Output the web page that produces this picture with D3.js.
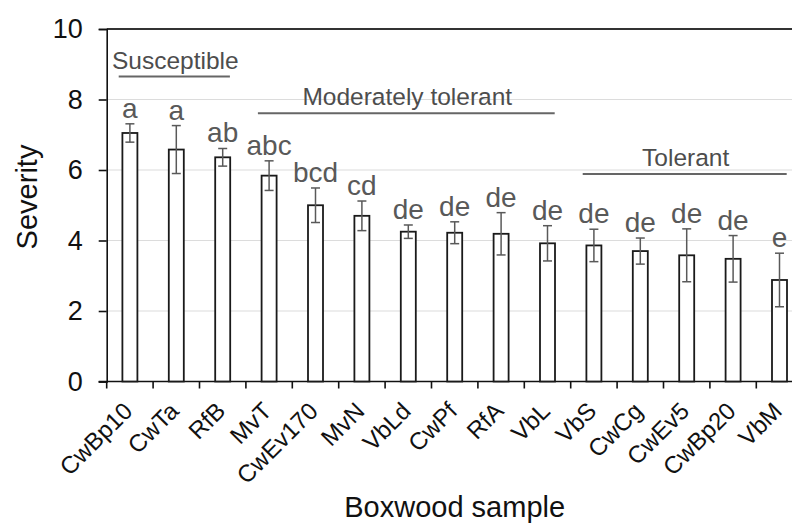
<!DOCTYPE html>
<html>
<head>
<meta charset="utf-8">
<script src="https://cdn.jsdelivr.net/npm/d3@7"></script>
<style>
  body { margin: 0; background: #fff; }
  svg { display: block; font-family: "Liberation Sans", Arial, sans-serif; }
</style>
</head>
<body>
<svg width="792" height="529"></svg>
<script>
// Data
const samples = ["CwBp10", "CwTa", "RfB", "MvT", "CwEv170", "MvN", "VbLd", "CwPf", "RfA", "VbL", "VbS", "CwCg", "CwEv5", "CwBp20", "VbM"];
const severity = [7.05, 6.58, 6.36, 5.84, 5.00, 4.70, 4.25, 4.22, 4.19, 3.92, 3.86, 3.70, 3.58, 3.48, 2.88];
const errors = [0.26, 0.68, 0.25, 0.42, 0.49, 0.42, 0.19, 0.31, 0.60, 0.50, 0.46, 0.37, 0.75, 0.66, 0.76];
const letters = ["a", "a", "ab", "abc", "bcd", "cd", "de", "de", "de", "de", "de", "de", "de", "de", "e"];
const yTicks = [0, 2, 4, 6, 8, 10];

// Group labels: name, first sample, last sample, height of the line
const groupNames = ["Susceptible", "Moderately tolerant", "Tolerant"];
const groupFirst = ["CwBp10", "MvT", "VbS"];
const groupLast = ["RfB", "VbL", "VbM"];
const groupLevel = [8.65, 7.61, 5.89];

const svg = d3.select("svg");

// The plot runs past the right edge of the picture (it is cropped there)
const plotLeft = 106.7, plotRight = 802.7;
const plotTop = 29, plotBottom = 381.5;

const x = d3.scaleBand()
    .domain(samples)
    .range([plotLeft, plotRight])
    .padding(0);

const y = d3.scaleLinear()
    .domain([0, 10])
    .range([plotBottom, plotTop]);

const barWidth = 15;
const grey = "#595959";

//Gridlines
svg.append("g")
    .selectAll("line")
    .data(yTicks.filter(d => d > 0 && d < 10))
    .enter()
    .append("line")
    .attr("x1", plotLeft)
    .attr("x2", plotRight)
    .attr("y1", d => y(d))
    .attr("y2", d => y(d))
    .attr("stroke", "#dcdcdc")
    .attr("stroke-width", 1.2);

//Top border line at 10
svg.append("line")
    .attr("x1", plotLeft)
    .attr("x2", plotRight)
    .attr("y1", y(10))
    .attr("y2", y(10))
    .attr("stroke", "#333")
    .attr("stroke-width", 2);

//Y axis
const yAxis = svg.append("g")
    .attr("transform", `translate(${plotLeft}, 0)`)
    .call(d3.axisLeft(y).tickValues(yTicks).tickSize(8).tickPadding(16));
yAxis.select(".domain").attr("stroke", "#111").attr("stroke-width", 1.6);
yAxis.selectAll(".tick line").attr("stroke", "#111").attr("stroke-width", 1.6);
yAxis.selectAll(".tick text")
    .attr("font-size", "27px")
    .attr("font-family", "Liberation Sans, Arial, sans-serif")
    .attr("fill", "#111");

//X axis: ticks between the bars
const boundaries = samples.map(s => x(s)).concat([plotRight]);
const xAxis = svg.append("g");
xAxis.append("line")
    .attr("x1", plotLeft - 8)
    .attr("x2", plotRight)
    .attr("y1", plotBottom)
    .attr("y2", plotBottom)
    .attr("stroke", "#111")
    .attr("stroke-width", 1.6);
xAxis.selectAll(".xtick")
    .data(boundaries)
    .enter()
    .append("line")
    .attr("class", "xtick")
    .attr("x1", d => d)
    .attr("x2", d => d)
    .attr("y1", plotBottom)
    .attr("y2", plotBottom + 7)
    .attr("stroke", "#111")
    .attr("stroke-width", 1.6);

//Rotated sample names
xAxis.selectAll(".xlabel")
    .data(samples)
    .enter()
    .append("text")
    .attr("class", "xlabel")
    .attr("text-anchor", "end")
    .attr("font-size", "24px")
    .attr("fill", "#111")
    .attr("transform", d => `translate(${x(d) + x.bandwidth() / 2 + 4}, ${plotBottom + 31}) rotate(-45)`)
    .text(d => d);

//Bars
const bars = samples.map((s, i) => ({ sample: s, value: severity[i], err: errors[i], letter: letters[i] }));

svg.selectAll(".bar")
    .data(bars)
    .enter()
    .append("rect")
    .attr("class", "bar")
    .attr("x", d => x(d.sample) + x.bandwidth() / 2 - barWidth / 2)
    .attr("y", d => y(d.value))
    .attr("width", barWidth)
    .attr("height", d => plotBottom - y(d.value))
    .attr("fill", "#fff")
    .attr("stroke", "#1a1a1a")
    .attr("stroke-width", 1.8);

//Error bars
const eb = svg.selectAll(".err")
    .data(bars)
    .enter()
    .append("g")
    .attr("class", "err")
    .attr("stroke", grey)
    .attr("stroke-width", 1.5);
eb.append("line")
    .attr("x1", d => x(d.sample) + x.bandwidth() / 2)
    .attr("x2", d => x(d.sample) + x.bandwidth() / 2)
    .attr("y1", d => y(d.value + d.err))
    .attr("y2", d => y(d.value - d.err));
eb.append("line")
    .attr("x1", d => x(d.sample) + x.bandwidth() / 2 - 4.5)
    .attr("x2", d => x(d.sample) + x.bandwidth() / 2 + 4.5)
    .attr("y1", d => y(d.value + d.err))
    .attr("y2", d => y(d.value + d.err));
eb.append("line")
    .attr("x1", d => x(d.sample) + x.bandwidth() / 2 - 4.5)
    .attr("x2", d => x(d.sample) + x.bandwidth() / 2 + 4.5)
    .attr("y1", d => y(d.value - d.err))
    .attr("y2", d => y(d.value - d.err));

//Significance letters
svg.selectAll(".letter")
    .data(bars)
    .enter()
    .append("text")
    .attr("class", "letter")
    .attr("x", d => x(d.sample) + x.bandwidth() / 2)
    .attr("y", d => y(d.value + d.err) - 6)
    .attr("text-anchor", "middle")
    .attr("font-size", "28px")
    .attr("fill", grey)
    .text(d => d.letter);

//Group labels with lines
const groups = groupNames.map((g, i) => ({
    name: g,
    x1: x(groupFirst[i]) + 12,
    x2: x(groupLast[i]) + x.bandwidth() - 16,
    level: groupLevel[i]
}));

svg.selectAll(".gline")
    .data(groups)
    .enter()
    .append("line")
    .attr("class", "gline")
    .attr("x1", d => d.x1)
    .attr("x2", d => d.x2)
    .attr("y1", d => y(d.level))
    .attr("y2", d => y(d.level))
    .attr("stroke", "#666")
    .attr("stroke-width", 2);

svg.selectAll(".glabel")
    .data(groups)
    .enter()
    .append("text")
    .attr("class", "glabel")
    .attr("x", d => (d.x1 + d.x2) / 2 + 1)
    .attr("y", d => y(d.level) - 8)
    .attr("text-anchor", "middle")
    .attr("font-size", "24.5px")
    .attr("fill", "#4d4d4d")
    .text(d => d.name);

//Axis titles
svg.append("text")
    .attr("transform", "rotate(-90)")
    .attr("x", -197)
    .attr("y", 37)
    .attr("text-anchor", "middle")
    .attr("font-size", "29px")
    .attr("fill", "#111")
    .text("Severity");

svg.append("text")
    .attr("x", (plotLeft + plotRight) / 2)
    .attr("y", 517)
    .attr("text-anchor", "middle")
    .attr("font-size", "29px")
    .attr("fill", "#111")
    .text("Boxwood sample");
</script>
</body>
</html>
